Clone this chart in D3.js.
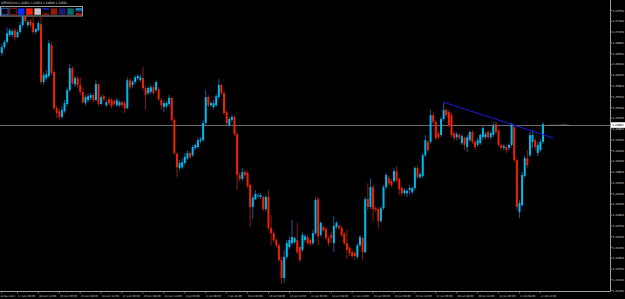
<!DOCTYPE html>
<html><head><meta charset="utf-8">
<script src="https://cdn.jsdelivr.net/npm/d3@7"></script>
<style>html,body{margin:0;padding:0;background:#000;overflow:hidden}svg{display:block}</style>
</head><body><svg id="c" width="625" height="299"></svg>
<script>
const symbolTitle = "GBPUSD,H4  1.24861 1.24952 1.24809 1.24891";
const opens = [
1.2656,1.2670,1.2682,1.2698,1.2698,1.2709,1.2693,1.2705,1.2721,1.2740,
1.2721,1.2730,1.2726,1.2705,1.2709,1.2723,1.2589,1.2598,1.2603,1.2675,
1.2612,1.2528,1.2521,1.2508,1.2521,1.2538,1.2570,1.2621,1.2584,1.2598,
1.2582,1.2566,1.2540,1.2547,1.2552,1.2559,1.2547,1.2584,1.2538,1.2556,
1.2535,1.2549,1.2547,1.2545,1.2535,1.2535,1.2542,1.2540,1.2528,1.2593,
1.2582,1.2589,1.2598,1.2593,1.2598,1.2575,1.2563,1.2566,1.2577,1.2570,
1.2572,1.2547,1.2531,1.2533,1.2538,1.2552,1.2501,1.2422,1.2389,1.2391,
1.2401,1.2412,1.2424,1.2419,1.2436,1.2438,1.2452,1.2454,1.2494,1.2554,
1.2535,1.2531,1.2535,1.2554,1.2582,1.2563,1.2519,1.2489,1.2501,1.2508,
1.2468,1.2373,1.2364,1.2380,1.2378,1.2350,1.2299,1.2317,1.2324,1.2322,
1.2322,1.2294,1.2322,1.2250,1.2238,1.2222,1.2210,1.2176,1.2134,1.2183,
1.2206,1.2215,1.2217,1.2222,1.2206,1.2199,1.2222,1.2229,1.2222,1.2215,
1.2238,1.2317,1.2234,1.2252,1.2248,1.2227,1.2234,1.2215,1.2252,1.2255,
1.2250,1.2236,1.2215,1.2204,1.2194,1.2192,1.2183,1.2210,1.2227,1.2194,
1.2317,1.2299,1.2345,1.2296,1.2294,1.2266,1.2296,1.2345,1.2366,1.2359,
1.2359,1.2382,1.2364,1.2343,1.2331,1.2331,1.2338,1.2333,1.2343,1.2389,
1.2368,1.2371,1.2419,1.2450,1.2450,1.2512,1.2496,1.2470,1.2466,1.2503,
1.2524,1.2519,1.2512,1.2470,1.2461,1.2466,1.2447,1.2459,1.2438,1.2454,
1.2473,1.2450,1.2443,1.2447,1.2461,1.2461,1.2473,1.2461,1.2466,1.2491,
1.2475,1.2443,1.2436,1.2438,1.2436,1.2443,1.2484,1.2408,1.2287,1.2303,
1.2371,1.2412,1.2419,1.2450,1.2454,1.2424,1.2431,1.2450];
const highs = [
1.2677,1.2686,1.2716,1.2714,1.2712,1.2714,1.2709,1.2728,1.2747,1.2744,
1.2733,1.2735,1.2740,1.2714,1.2730,1.2740,1.2612,1.2617,1.2686,1.2682,
1.2617,1.2535,1.2528,1.2533,1.2547,1.2577,1.2631,1.2626,1.2603,1.2603,
1.2600,1.2575,1.2559,1.2563,1.2563,1.2563,1.2593,1.2586,1.2559,1.2561,
1.2547,1.2554,1.2552,1.2549,1.2552,1.2547,1.2545,1.2545,1.2600,1.2598,
1.2593,1.2605,1.2607,1.2607,1.2624,1.2579,1.2579,1.2582,1.2582,1.2593,
1.2577,1.2552,1.2547,1.2545,1.2559,1.2554,1.2505,1.2426,1.2408,1.2412,
1.2424,1.2431,1.2429,1.2443,1.2447,1.2461,1.2461,1.2501,1.2570,1.2559,
1.2545,1.2547,1.2561,1.2596,1.2586,1.2568,1.2524,1.2508,1.2512,1.2512,
1.2473,1.2380,1.2389,1.2385,1.2382,1.2354,1.2326,1.2338,1.2331,1.2331,
1.2326,1.2326,1.2338,1.2280,1.2243,1.2227,1.2215,1.2183,1.2199,1.2222,
1.2231,1.2269,1.2231,1.2262,1.2210,1.2241,1.2236,1.2234,1.2227,1.2245,
1.2322,1.2322,1.2266,1.2257,1.2252,1.2231,1.2241,1.2278,1.2266,1.2259,
1.2255,1.2241,1.2245,1.2208,1.2199,1.2197,1.2215,1.2234,1.2231,1.2322,
1.2354,1.2364,1.2350,1.2301,1.2299,1.2301,1.2350,1.2378,1.2371,1.2364,
1.2389,1.2394,1.2368,1.2347,1.2343,1.2340,1.2350,1.2347,1.2394,1.2394,
1.2380,1.2424,1.2466,1.2454,1.2524,1.2519,1.2501,1.2475,1.2508,1.2542,
1.2528,1.2524,1.2517,1.2475,1.2473,1.2470,1.2468,1.2463,1.2466,1.2477,
1.2477,1.2454,1.2459,1.2470,1.2487,1.2473,1.2477,1.2475,1.2496,1.2498,
1.2480,1.2447,1.2445,1.2443,1.2447,1.2494,1.2491,1.2412,1.2315,1.2380,
1.2419,1.2431,1.2473,1.2477,1.2459,1.2450,1.2456,1.2496];
const lows = [
1.2649,1.2665,1.2677,1.2693,1.2693,1.2686,1.2691,1.2702,1.2716,1.2726,
1.2716,1.2716,1.2700,1.2700,1.2707,1.2584,1.2582,1.2593,1.2598,1.2605,
1.2524,1.2505,1.2501,1.2503,1.2517,1.2533,1.2566,1.2582,1.2577,1.2575,
1.2559,1.2538,1.2535,1.2542,1.2547,1.2542,1.2545,1.2533,1.2535,1.2545,
1.2531,1.2535,1.2528,1.2533,1.2531,1.2531,1.2531,1.2517,1.2526,1.2572,
1.2575,1.2584,1.2593,1.2589,1.2570,1.2524,1.2559,1.2561,1.2559,1.2566,
1.2545,1.2524,1.2519,1.2528,1.2533,1.2496,1.2419,1.2368,1.2385,1.2387,
1.2396,1.2408,1.2410,1.2415,1.2431,1.2433,1.2447,1.2450,1.2489,1.2531,
1.2531,1.2526,1.2531,1.2549,1.2559,1.2512,1.2489,1.2484,1.2496,1.2463,
1.2338,1.2357,1.2359,1.2368,1.2343,1.2252,1.2271,1.2315,1.2320,1.2317,
1.2289,1.2289,1.2245,1.2210,1.2217,1.2204,1.2171,1.2120,1.2122,1.2178,
1.2201,1.2210,1.2213,1.2190,1.2171,1.2194,1.2217,1.2210,1.2208,1.2210,
1.2234,1.2210,1.2229,1.2241,1.2222,1.2208,1.2217,1.2194,1.2248,1.2245,
1.2229,1.2210,1.2178,1.2185,1.2180,1.2176,1.2178,1.2206,1.2176,1.2192,
1.2292,1.2294,1.2266,1.2287,1.2248,1.2262,1.2292,1.2340,1.2350,1.2345,
1.2354,1.2357,1.2326,1.2324,1.2326,1.2322,1.2329,1.2329,1.2338,1.2364,
1.2364,1.2366,1.2415,1.2426,1.2445,1.2491,1.2454,1.2456,1.2461,1.2498,
1.2508,1.2484,1.2461,1.2454,1.2454,1.2454,1.2443,1.2431,1.2426,1.2450,
1.2445,1.2431,1.2438,1.2443,1.2454,1.2456,1.2456,1.2456,1.2461,1.2468,
1.2438,1.2431,1.2431,1.2424,1.2431,1.2438,1.2403,1.2292,1.2273,1.2299,
1.2366,1.2389,1.2415,1.2436,1.2431,1.2417,1.2426,1.2445];
const closes = [
1.2670,1.2682,1.2702,1.2709,1.2707,1.2693,1.2705,1.2721,1.2740,1.2730,
1.2728,1.2721,1.2705,1.2712,1.2726,1.2589,1.2605,1.2607,1.2679,1.2610,
1.2528,1.2517,1.2508,1.2524,1.2540,1.2570,1.2621,1.2586,1.2598,1.2582,
1.2566,1.2542,1.2554,1.2556,1.2559,1.2547,1.2584,1.2538,1.2554,1.2549,
1.2542,1.2540,1.2533,1.2538,1.2547,1.2542,1.2535,1.2528,1.2593,1.2577,
1.2589,1.2600,1.2603,1.2600,1.2575,1.2559,1.2575,1.2577,1.2563,1.2589,
1.2549,1.2535,1.2540,1.2540,1.2552,1.2501,1.2424,1.2391,1.2401,1.2403,
1.2415,1.2424,1.2415,1.2438,1.2443,1.2454,1.2456,1.2494,1.2554,1.2535,
1.2540,1.2540,1.2556,1.2582,1.2563,1.2517,1.2494,1.2503,1.2508,1.2468,
1.2373,1.2364,1.2380,1.2373,1.2347,1.2299,1.2320,1.2329,1.2326,1.2326,
1.2294,1.2322,1.2250,1.2238,1.2222,1.2210,1.2176,1.2134,1.2183,1.2215,
1.2222,1.2229,1.2227,1.2194,1.2176,1.2234,1.2231,1.2215,1.2213,1.2238,
1.2315,1.2231,1.2262,1.2245,1.2227,1.2215,1.2227,1.2255,1.2262,1.2250,
1.2234,1.2215,1.2199,1.2192,1.2185,1.2185,1.2210,1.2229,1.2194,1.2317,
1.2299,1.2345,1.2294,1.2292,1.2266,1.2296,1.2345,1.2373,1.2354,1.2350,
1.2382,1.2361,1.2340,1.2331,1.2338,1.2336,1.2343,1.2343,1.2389,1.2368,
1.2375,1.2419,1.2454,1.2431,1.2512,1.2496,1.2459,1.2461,1.2503,1.2524,
1.2512,1.2489,1.2466,1.2459,1.2468,1.2459,1.2463,1.2443,1.2461,1.2473,
1.2450,1.2438,1.2454,1.2466,1.2482,1.2468,1.2461,1.2470,1.2489,1.2473,
1.2443,1.2436,1.2440,1.2431,1.2443,1.2491,1.2408,1.2299,1.2308,1.2373,
1.2412,1.2396,1.2466,1.2466,1.2438,1.2443,1.2450,1.2491];
const priceTicks = [1.2755,1.2730,1.2705,1.2680,1.2655,1.2630,1.2605,1.2580,1.2555,1.2530,
1.2505,1.2480,1.2455,1.2430,1.2405,1.2380,1.2355,1.2330,1.2305,1.2280,
1.2255,1.2230,1.2205,1.2180,1.2155,1.2130,1.2105];
const timeLabels = ["16 Dec 2024","17 Dec 08:00","18 Dec 16:00","20 Dec 00:00","23 Dec 08:00","24 Dec 16:00",
"27 Dec 00:00","30 Dec 08:00","31 Dec 16:00","3 Jan 00:00","6 Jan 08:00","7 Jan 16:00","9 Jan 00:00",
"10 Jan 08:00","13 Jan 16:00","15 Jan 00:00","16 Jan 08:00","17 Jan 16:00","21 Jan 00:00","22 Jan 08:00",
"23 Jan 16:00","27 Jan 00:00","28 Jan 08:00","29 Jan 16:00","31 Jan 00:00","3 Feb 08:00","4 Feb 16:00"];
const timeLabelBars = [0,6,14,22,30,38,46,54,62,70,78,86,94,102,110,118,126,134,142,150,158,166,174,182,190,198,206];
const horizontalLevel = 1.24891;
const horizontalLabel = "← 2.0 (1.24891)";
const trendBars = [169, 211];
const trendPrices = [1.2542, 1.2459];
const toolbarColors = ["#000","#000","#0a2cff","#ff1a00","#c4c4c4","#000","#8e1a0a","#1c1c72","#006a6a","#000"];
const toolbarBorders = ["#1e64c8","#8a2010","#0a2cff","#ff1a00","#c4c4c4","#000","#8e1a0a","#1c1c72","#006a6a","#000"];

const svg = d3.select('#c');
svg.append('rect').attr('width',625).attr('height',299).attr('fill','#000');
const N = opens.length;
const x = d3.scaleLinear().domain([0, N-1]).range([1.8, 543]);
const y = d3.scaleLinear().domain([priceTicks[0], priceTicks[priceTicks.length-1]]).range([10.5, 290.5]);
const axisX = 610.5, axisY = 291.5;

svg.append('line').attr('x1',0).attr('x2',axisX).attr('y1',Math.round(y(horizontalLevel))+0.5).attr('y2',Math.round(y(horizontalLevel))+0.5)
  .attr('stroke','#6a6a6a').attr('stroke-width',1);

const data = d3.range(N).map(i => ({i, o:opens[i], h:highs[i], l:lows[i], c:closes[i]}));
const up = d => d.c >= d.o;
const g = svg.append('g');
g.selectAll('line.w').data(data).join('line').attr('class','w')
  .attr('x1', d => x(d.i)).attr('x2', d => x(d.i))
  .attr('y1', d => y(d.h)).attr('y2', d => y(d.l))
  .attr('stroke', d => up(d) ? '#175c96' : '#8c1c08').attr('stroke-width', 1);
g.selectAll('rect.b').data(data).join('rect').attr('class','b')
  .attr('x', d => x(d.i) - 1).attr('width', 2)
  .attr('y', d => y(Math.max(d.o, d.c)))
  .attr('height', d => Math.max(0.8, Math.abs(y(d.o) - y(d.c))))
  .attr('fill', d => up(d) ? '#00b8ec' : '#f02200');

svg.append('line').attr('x1', x(trendBars[0])).attr('y1', y(trendPrices[0]))
  .attr('x2', x(trendBars[1])).attr('y2', y(trendPrices[1]))
  .attr('stroke','#1a1ae0').attr('stroke-width',1);
svg.append('text').attr('x',546).attr('y',y(horizontalLevel)+1).attr('font-family','DejaVu Sans')
  .attr('font-size',2.9).attr('fill','#9a9a9a').text(horizontalLabel);

svg.append('line').attr('x1',axisX).attr('x2',axisX).attr('y1',0).attr('y2',axisY).attr('stroke','#a0a0a0').attr('stroke-width',1);
svg.append('line').attr('x1',0).attr('x2',axisX).attr('y1',axisY).attr('y2',axisY).attr('stroke','#a0a0a0').attr('stroke-width',1);

const pa = svg.append('g');
pa.selectAll('line').data(priceTicks).join('line')
  .attr('x1',axisX).attr('x2',axisX+2).attr('y1',d=>y(d)).attr('y2',d=>y(d)).attr('stroke','#a0a0a0').attr('stroke-width',0.6);
pa.selectAll('text').data(priceTicks).join('text')
  .attr('x',612.5).attr('y',d=>y(d)+1.1).attr('font-family','DejaVu Sans').attr('font-size',2.8)
  .attr('fill','#d0d0d0').text(d=>d.toFixed(5));
const cy = y(horizontalLevel);
svg.append('rect').attr('x',611).attr('y',cy-2.8).attr('width',14).attr('height',5.6).attr('fill','#fff');
svg.append('text').attr('x',612.3).attr('y',cy+1.1).attr('font-family','DejaVu Sans').attr('font-size',2.8)
  .attr('fill','#000').text(horizontalLevel.toFixed(5));

const ta = svg.append('g');
ta.selectAll('line').data(timeLabelBars).join('line')
  .attr('x1',d=>x(d)).attr('x2',d=>x(d)).attr('y1',axisY).attr('y2',axisY+2).attr('stroke','#a0a0a0').attr('stroke-width',0.6);
ta.selectAll('text').data(timeLabels).join('text')
  .attr('x',(d,i)=> i===0 ? 0.3 : x(timeLabelBars[i])+0.6).attr('y',296.8)
  .attr('font-family','DejaVu Sans').attr('font-size',(d,i)=> i===0 ? 2.3 : 2.55).attr('fill','#d0d0d0').text(d=>d);

svg.append('text').attr('x',1).attr('y',3.6).attr('font-family','DejaVu Sans').attr('font-size',3.2)
  .attr('fill','#d8d8d8').attr('textLength',66).attr('lengthAdjust','spacingAndGlyphs').text(symbolTitle);

const tb = svg.append('g');
tb.append('rect').attr('x',0.5).attr('y',6.5).attr('width',82).attr('height',9.5).attr('fill','#000').attr('stroke','#9a9a9a').attr('stroke-width',1);
const bx = d3.scaleBand().domain(d3.range(toolbarColors.length)).range([1.5, 82]).paddingInner(0.2);
tb.selectAll('rect.btn').data(toolbarColors).join('rect').attr('class','btn')
  .attr('x',(d,i)=>bx(i)).attr('y',8.3).attr('width',bx.bandwidth()).attr('height',6.5)
  .attr('fill',d=>d).attr('stroke',(d,i)=>toolbarBorders[i]).attr('stroke-width',(d,i)=> i<2 ? 1 : 0);
tb.append('rect').attr('x',bx(5)).attr('y',8.3).attr('width',bx.bandwidth()).attr('height',1.3).attr('fill','#1a2cff');
tb.append('rect').attr('x',bx(5)).attr('y',13.5).attr('width',bx.bandwidth()).attr('height',1.3).attr('fill','#c01a00');
tb.append('rect').attr('x',bx(9)).attr('y',8.3).attr('width',bx.bandwidth()).attr('height',1.5).attr('fill','#2a9ee0');
tb.append('rect').attr('x',bx(9)).attr('y',10.3).attr('width',bx.bandwidth()).attr('height',1.2).attr('fill','#1a60c0');
tb.append('rect').attr('x',bx(9)).attr('y',13.3).attr('width',bx.bandwidth()).attr('height',1.5).attr('fill','#d02000');
</script></body></html>
